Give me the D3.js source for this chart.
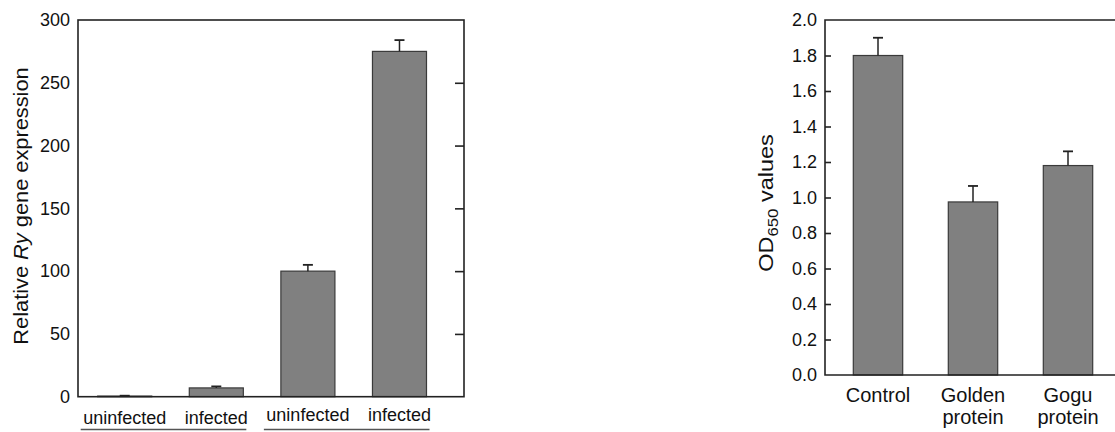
<!DOCTYPE html>
<html>
<head>
<meta charset="utf-8">
<script src="https://cdn.jsdelivr.net/npm/d3@7/dist/d3.min.js"></script>
<style>
  html, body { margin: 0; padding: 0; background: #fff; overflow: hidden; }
  svg { display: block; font-family: "Liberation Sans", Arial, sans-serif; }
</style>
</head>
<body>
<svg id="fig" width="1115" height="432"></svg>
<script>
// Panel A: relative Ry expression
const ryCategories = ["uninfected", "infected", "uninfected", "infected"];
const ryValues = [0.5, 7, 100, 275];
const ryErrors = [0.3, 1.2, 5, 9];
const ryGroups = [[0, 1], [2, 3]];
const ryTicks = [0, 50, 100, 150, 200, 250, 300];

// Panel B: OD650 values
const odCategories = [["Control"], ["Golden", "protein"], ["Gogu", "protein"]];
const odValues = [1.8, 0.975, 1.18];
const odErrors = [0.1, 0.09, 0.08];
const odTicks = [0, 0.2, 0.4, 0.6, 0.8, 1.0, 1.2, 1.4, 1.6, 1.8, 2.0];

const svg = d3.select("#fig");
const INK = "#222";
const BAR_FILL = "#808080";
const BAR_EDGE = "#3a3a3a";

function bars(g, data, x, y, errs) {
  const bw = x.bandwidth();
  g.selectAll("rect.bar").data(data).join("rect")
    .attr("class", "bar")
    .attr("x", (d, i) => x(i))
    .attr("y", d => y(d))
    .attr("width", bw)
    .attr("height", d => y(0) - y(d))
    .attr("fill", BAR_FILL)
    .attr("stroke", BAR_EDGE)
    .attr("stroke-width", 1.2);
  // upper error whiskers with caps
  const eb = g.selectAll("g.err").data(data).join("g").attr("class", "err");
  eb.append("line")
    .attr("x1", (d, i) => x(i) + bw / 2).attr("x2", (d, i) => x(i) + bw / 2)
    .attr("y1", d => y(d)).attr("y2", (d, i) => y(d + errs[i]))
    .attr("stroke", INK).attr("stroke-width", 1.5);
  eb.append("line")
    .attr("x1", (d, i) => x(i) + bw / 2 - 5).attr("x2", (d, i) => x(i) + bw / 2 + 5)
    .attr("y1", (d, i) => y(d + errs[i])).attr("y2", (d, i) => y(d + errs[i]))
    .attr("stroke", INK).attr("stroke-width", 1.8);
}

// ---------- Panel A ----------
{
  const L = 78, R = 464, T = 20, B = 396.7;
  const y = d3.scaleLinear().domain([0, 300]).range([B, T]);
  const x = d3.scaleBand().domain(d3.range(ryValues.length))
    .range([97.7, 426.5]).paddingInner(0.41).paddingOuter(0);
  const g = svg.append("g");

  bars(g, ryValues, x, y, ryErrors);

  // frame
  g.append("rect").attr("x", L).attr("y", T).attr("width", R - L).attr("height", B - T)
    .attr("fill", "none").attr("stroke", INK).attr("stroke-width", 1.6);

  // left labels
  const axL = g.append("g").attr("transform", `translate(${L},0)`)
    .call(d3.axisLeft(y).tickValues(ryTicks).tickSize(0).tickPadding(8).tickFormat(d3.format("d")));
  axL.select(".domain").remove();
  axL.selectAll("text").attr("font-size", 18).attr("fill", "#111").attr("font-family", "Liberation Sans, Arial, sans-serif");

  // right inward ticks
  const axR = g.append("g").attr("transform", `translate(${R},0)`)
    .call(d3.axisRight(y).tickValues(ryTicks.slice(1, -1)).tickSize(-9).tickFormat(""));
  axR.select(".domain").remove();
  axR.selectAll("line").attr("stroke", INK).attr("stroke-width", 1.6);

  // category labels and group underlines
  const baseY = [424, 421];
  ryGroups.forEach((grp, gi) => {
    grp.forEach(i => {
      g.append("text").attr("x", x(i) + x.bandwidth() / 2).attr("y", baseY[gi])
        .attr("text-anchor", "middle").attr("font-size", 18).attr("fill", "#111")
        .text(ryCategories[i]);
    });
    const x0 = x(grp[0]) - 17, x1 = x(grp[grp.length - 1]) + x.bandwidth() + 3;
    g.append("line").attr("x1", x0).attr("x2", x1).attr("y1", 429.5).attr("y2", 429.5)
      .attr("stroke", "#555").attr("stroke-width", 1.5);
  });

  // y title
  const t = g.append("text").attr("transform", "translate(27.5,206) rotate(-90) scale(1.09,1)")
    .attr("text-anchor", "middle").attr("font-size", 20).attr("fill", "#111");
  t.append("tspan").text("Relative ");
  t.append("tspan").attr("font-style", "italic").text("Ry");
  t.append("tspan").text(" gene expression");
}

// ---------- Panel B ----------
{
  const L = 825, R = 1160, T = 20, B = 375;
  const y = d3.scaleLinear().domain([0, 2]).range([B, T]);
  const x = d3.scaleBand().domain(d3.range(odValues.length))
    .range([853.3, 1092.7]).paddingInner(0.48).paddingOuter(0);
  const g = svg.append("g");

  bars(g, odValues, x, y, odErrors);

  // open frame: left, top, bottom
  g.append("path").attr("d", `M${R},${T}H${L}V${B}H${R}`)
    .attr("fill", "none").attr("stroke", INK).attr("stroke-width", 1.6);

  const ax = g.append("g").attr("transform", `translate(${L},0)`)
    .call(d3.axisLeft(y).tickValues(odTicks).tickSizeInner(-6).tickSizeOuter(0).tickPadding(8).tickFormat(d3.format(".1f")));
  ax.select(".domain").remove();
  ax.selectAll("line").attr("stroke", INK).attr("stroke-width", 1.6);
  ax.selectAll("text").attr("font-size", 18).attr("fill", "#111").attr("font-family", "Liberation Sans, Arial, sans-serif");
  ax.selectAll(".tick").filter(d => d === 0 || d === 2).select("line").remove();

  odCategories.forEach((lines, i) => {
    const txt = g.append("text").attr("text-anchor", "middle").attr("font-size", 20).attr("fill", "#111");
    lines.forEach((s, k) => {
      txt.append("tspan").attr("x", x(i) + x.bandwidth() / 2).attr("y", 402 + k * 21.5).text(s);
    });
  });

  const t = g.append("text").attr("transform", "translate(773,203) rotate(-90) scale(1.12,1)")
    .attr("text-anchor", "middle").attr("font-size", 21).attr("fill", "#111");
  t.append("tspan").text("OD");
  t.append("tspan").attr("font-size", 15).attr("dy", 5).text("650");
  t.append("tspan").attr("dy", -5).text(" values");
}
</script>
</body>
</html>
